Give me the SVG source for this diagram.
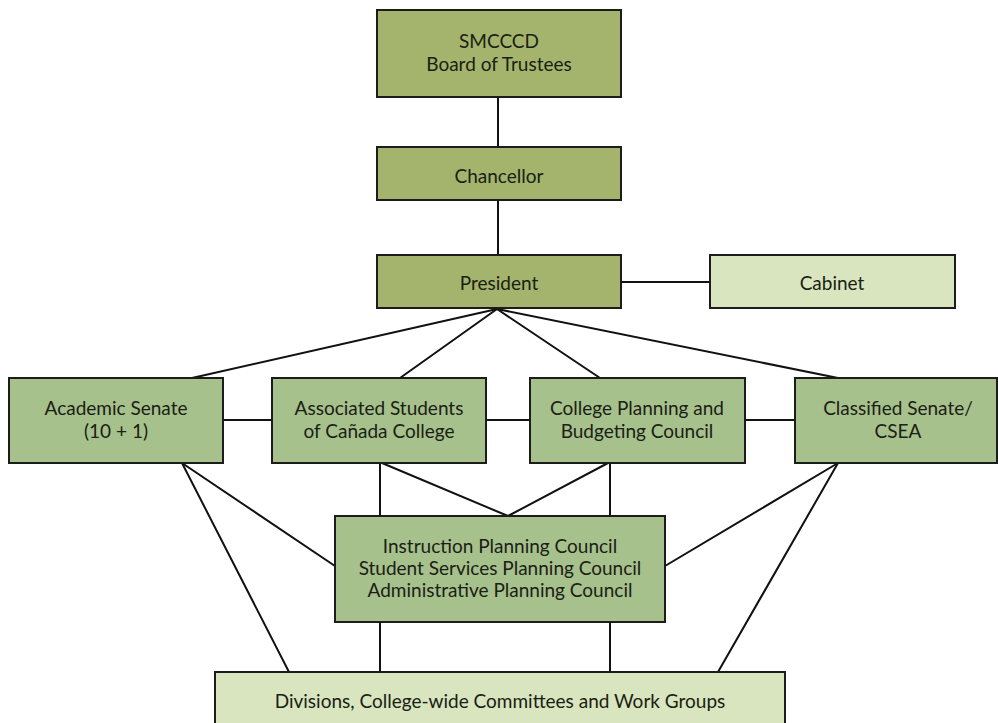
<svg xmlns="http://www.w3.org/2000/svg" width="998" height="723" viewBox="0 0 998 723">
<style>
.box{stroke:#1c1c1c;stroke-width:2}
.dark{fill:#a4b46c}
.mid{fill:#a7c18d}
.light{fill:#d8e5be}
.t{font-family:Lato,"Liberation Sans",sans-serif;font-size:19px;fill:#1a2014;text-anchor:middle}
.c line{stroke:#111;stroke-width:2;stroke-linecap:round}
</style>
<rect width="998" height="723" fill="#ffffff"/>
<g class="c" id="connectors">
<line x1="498" y1="97" x2="498" y2="147"/>
<line x1="498" y1="200" x2="498" y2="255"/>
<line x1="621" y1="282" x2="710" y2="282"/>
<line x1="497" y1="309" x2="192" y2="378"/>
<line x1="497" y1="309" x2="400" y2="378"/>
<line x1="497" y1="309" x2="600" y2="378"/>
<line x1="497" y1="309" x2="838" y2="378"/>
<line x1="223" y1="420" x2="272" y2="420"/>
<line x1="486" y1="420" x2="530" y2="420"/>
<line x1="745" y1="420" x2="795" y2="420"/>
<line x1="182" y1="463" x2="335" y2="566"/>
<line x1="182" y1="463" x2="289" y2="672"/>
<line x1="380" y1="463" x2="380" y2="516"/>
<line x1="382" y1="463" x2="508" y2="516"/>
<line x1="610" y1="463" x2="610" y2="516"/>
<line x1="608" y1="463" x2="508" y2="516"/>
<line x1="838" y1="463" x2="665" y2="566"/>
<line x1="838" y1="463" x2="718" y2="672"/>
<line x1="380" y1="622" x2="380" y2="672"/>
<line x1="610" y1="622" x2="610" y2="672"/>
</g>
<g id="board">
<rect class="box dark" x="377" y="10" width="244" height="87"/>
<text class="t" x="499" y="48">SMCCCD</text>
<text class="t" x="499" y="71">Board of Trustees</text>
</g>
<g id="chancellor">
<rect class="box dark" x="377" y="147" width="244" height="53"/>
<text class="t" x="499" y="183">Chancellor</text>
</g>
<g id="president">
<rect class="box dark" x="377" y="255" width="244" height="53"/>
<text class="t" x="499" y="290">President</text>
</g>
<g id="cabinet">
<rect class="box light" x="710" y="255" width="245" height="53"/>
<text class="t" x="832" y="290">Cabinet</text>
</g>
<g id="academic-senate">
<rect class="box mid" x="9" y="378" width="214" height="85"/>
<text class="t" x="116" y="415">Academic Senate</text>
<text class="t" x="116" y="438">(10 + 1)</text>
</g>
<g id="associated-students">
<rect class="box mid" x="272" y="378" width="214" height="85"/>
<text class="t" x="379" y="415">Associated Students</text>
<text class="t" x="379" y="438">of Cañada College</text>
</g>
<g id="cpbc">
<rect class="box mid" x="530" y="378" width="215" height="85"/>
<text class="t" x="637" y="415">College Planning and</text>
<text class="t" x="637" y="438">Budgeting Council</text>
</g>
<g id="classified-senate">
<rect class="box mid" x="795" y="378" width="202" height="85"/>
<text class="t" x="898" y="415">Classified Senate/</text>
<text class="t" x="898" y="438">CSEA</text>
</g>
<g id="planning-councils">
<rect class="box mid" x="335" y="516" width="330" height="106"/>
<text class="t" x="500" y="553">Instruction Planning Council</text>
<text class="t" x="500" y="575">Student Services Planning Council</text>
<text class="t" x="500" y="597">Administrative Planning Council</text>
</g>
<g id="divisions">
<rect class="box light" x="215" y="672" width="570" height="60"/>
<text class="t" x="500" y="708">Divisions, College-wide Committees and Work Groups</text>
</g>
</svg>
